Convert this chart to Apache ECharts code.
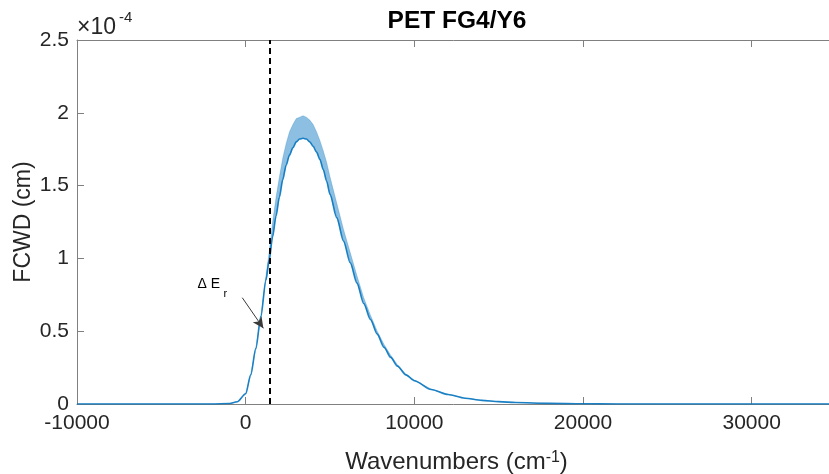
<!DOCTYPE html>
<html>
<head>
<meta charset="utf-8">
<script src="https://cdn.jsdelivr.net/npm/echarts@6/dist/echarts.min.js"></script>
<style>
  html, body { margin: 0; padding: 0; background: #fff; }
  #chart { width: 829px; height: 474px; }
</style>
</head>
<body>
<div id="chart"></div>
<script>
// Wavenumber grid (cm^-1)
const wavenumber = [-10000, -2000, -1000, -500, 0, 300, 600, 900, 1200, 1400,
  1600, 1800, 2000, 2200, 2400, 2600, 2800, 3000, 3200, 3400,
  3600, 3800, 4000, 4200, 4400, 4600, 4800, 5000, 5400, 5800,
  6200, 6600, 7000, 7400, 7800, 8200, 8600, 9000, 9500, 10000,
  11000, 12000, 13000, 14000, 15000, 16000, 18000, 20000, 22000, 25000,
  30000, 35000];

// FCWD, units of 1e-4 cm: smooth body of the spectrum
const fcwdBase = [0, 0, 0.003, 0.015, 0.07, 0.2, 0.38, 0.6, 0.85, 0.99,
  1.15, 1.29, 1.42, 1.54, 1.64, 1.71, 1.76, 1.80, 1.82, 1.825,
  1.82, 1.80, 1.77, 1.73, 1.68, 1.61, 1.53, 1.44, 1.28, 1.12,
  0.97, 0.83, 0.69, 0.58, 0.48, 0.39, 0.32, 0.26, 0.2, 0.16,
  0.10, 0.065, 0.04, 0.025, 0.016, 0.01, 0.004, 0.0015, 0.0005, 0,
  0, 0];

// FCWD, units of 1e-4 cm: tops of the vibronic fringes
const fcwdFringeTop = [0, 0, 0.003, 0.015, 0.07, 0.2, 0.38, 0.6, 0.88, 1.05,
  1.25, 1.42, 1.56, 1.69, 1.79, 1.87, 1.92, 1.96, 1.97, 1.98,
  1.97, 1.95, 1.92, 1.87, 1.81, 1.74, 1.66, 1.56, 1.38, 1.20,
  1.04, 0.88, 0.73, 0.61, 0.50, 0.41, 0.335, 0.27, 0.205, 0.165,
  0.102, 0.066, 0.04, 0.025, 0.016, 0.01, 0.004, 0.0015, 0.0005, 0,
  0, 0];

// Reorganisation energy marker
const deltaEr = 1400;
const arrowFrom = [-200, 0.73];
const arrowTo = [1050, 0.52];
const deltaLabelAt = [-2860, 0.82];

const xTicks = [-10000, 0, 10000, 20000, 30000];
const yTicks = [0, 0.5, 1, 1.5, 2, 2.5];

const FONT = '"Liberation Sans", Arial, Helvetica, sans-serif';
const TXT = '#262626';
const AX = '#808080';
const BLUE = '#0072BD';

const basePts = wavenumber.map((x, i) => [x, fcwdBase[i]]);

const chart = echarts.init(document.getElementById('chart'), null, { renderer: 'canvas' });

const axisCommon = {
  axisLine: { show: true, onZero: false, lineStyle: { color: AX, width: 1 } },
  axisTick: { show: true, inside: true, length: 7, lineStyle: { color: AX, width: 1 } },
  splitLine: { show: false }
};

// Fringe band: polygon between the smooth body and the fringe tops
function renderFringeBand(params, api) {
  const pts = [];
  for (let i = 0; i < wavenumber.length; i++) pts.push(api.coord([wavenumber[i], fcwdFringeTop[i]]));
  for (let i = wavenumber.length - 1; i >= 0; i--) pts.push(api.coord([wavenumber[i], fcwdBase[i]]));
  return {
    type: 'polygon',
    shape: { points: pts },
    style: { fill: BLUE, opacity: 0.45, stroke: BLUE, lineWidth: 0.5 }
  };
}

// ΔE_r annotation text
function renderDeltaLabel(params, api) {
  const p = api.coord(deltaLabelAt);
  return {
    type: 'group',
    children: [
      { type: 'text', x: p[0], y: p[1],
        style: { text: '\u0394 E', fontFamily: FONT, fontSize: 14, fill: '#000', textAlign: 'left', textVerticalAlign: 'middle' } },
      { type: 'text', x: p[0] + 26, y: p[1] + 9,
        style: { text: 'r', fontFamily: FONT, fontSize: 11, fill: '#000', textAlign: 'left', textVerticalAlign: 'middle' } }
    ]
  };
}

chart.setOption({
  animation: false,
  backgroundColor: '#fff',
  grid: { left: 77, right: -7, top: 40, bottom: 70, containLabel: false, outerBoundsMode: 'none' },
  xAxis: [
    Object.assign({
      type: 'value', position: 'bottom',
      min: -10000, max: 35000, interval: 10000,
      name: 'Wavenumbers (cm{sup|-1})',
      nameLocation: 'middle', nameGap: 46, nameMoveOverlap: false,
      nameTextStyle: {
        fontFamily: FONT, fontSize: 24, color: TXT,
        rich: { sup: { fontFamily: FONT, fontSize: 16, color: TXT, verticalAlign: 'top' } }
      },
      axisLabel: {
        fontFamily: FONT, fontSize: 21, color: TXT, margin: 9,
        formatter: v => xTicks.includes(v) ? String(v) : ''
      }
    }, axisCommon),
    Object.assign({
      type: 'value', position: 'top',
      min: -10000, max: 35000, interval: 10000,
      axisLabel: { show: false }
    }, axisCommon)
  ],
  yAxis: [
    Object.assign({
      type: 'value', min: 0, max: 2.5, interval: 0.5,
      name: 'FCWD (cm)', nameLocation: 'middle', nameGap: 42, nameMoveOverlap: false,
      nameTextStyle: { fontFamily: FONT, fontSize: 23, color: TXT },
      axisLabel: {
        fontFamily: FONT, fontSize: 21, color: TXT, margin: 8,
        formatter: v => yTicks.includes(v) ? String(v) : ''
      }
    }, axisCommon)
  ],
  series: [
    {
      name: 'fringes', type: 'custom', coordinateSystem: 'cartesian2d',
      data: [[wavenumber[0], fcwdBase[0]]], renderItem: renderFringeBand,
      silent: true, clip: true, z: 2
    },
    {
      name: 'base', type: 'line', data: basePts,
      showSymbol: false, smooth: 0.3, smoothMonotone: 'x',
      lineStyle: { color: BLUE, width: 1.6, opacity: 0.85 },
      z: 3
    },
    {
      name: 'markers', type: 'line', data: [], z: 5,
      markLine: {
        silent: true, animation: false,
        data: [
          [{ coord: [deltaEr, 0], symbol: 'none', lineStyle: { color: '#000', width: 2, type: [6, 4] } },
           { coord: [deltaEr, 2.5], symbol: 'none' }],
          [{ coord: arrowFrom, symbol: 'none', lineStyle: { color: '#3a3a3a', width: 1, type: 'solid' } },
           { coord: arrowTo, symbol: 'arrow', symbolSize: [8, 11] }]
        ],
        label: { show: false }
      }
    },
    {
      name: 'deltaLabel', type: 'custom', coordinateSystem: 'cartesian2d',
      data: [deltaLabelAt], renderItem: renderDeltaLabel, silent: true, z: 6
    }
  ],
  graphic: [
    {
      type: 'text', x: 457, y: 21,
      style: { text: 'PET FG4/Y6', fontFamily: FONT, fontSize: 24.5, fontWeight: 'bold', fill: '#000', textAlign: 'center', textVerticalAlign: 'middle' }
    },
    {
      type: 'text', x: 77, y: 27.5,
      style: { text: '\u00d710', fontFamily: FONT, fontSize: 23, fill: TXT, textAlign: 'left', textVerticalAlign: 'middle' }
    },
    {
      type: 'text', x: 119, y: 18,
      style: { text: '-4', fontFamily: FONT, fontSize: 15, fill: TXT, textAlign: 'left', textVerticalAlign: 'middle' }
    }
  ]
});
</script>
</body>
</html>
